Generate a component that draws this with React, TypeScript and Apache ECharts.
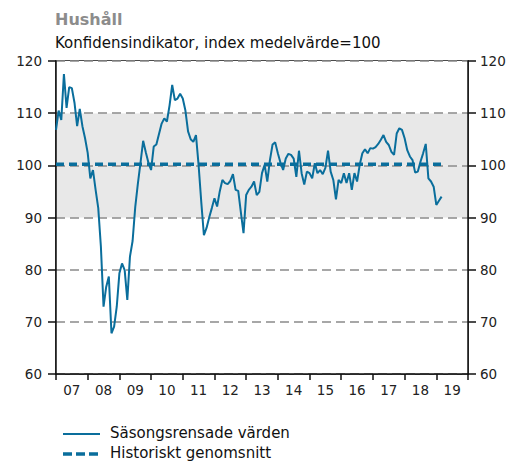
import React, { useEffect, useRef } from "react";
import * as echarts from "echarts";

const title = "Hushåll";
const subtitle = "Konfidensindikator, index medelvärde=100";
const yearLabels = ["07", "08", "09", "10", "11", "12", "13", "14", "15", "16", "17", "18", "19"];
const yTicks = [60, 70, 80, 90, 100, 110, 120];
const seriesName = "Säsongsrensade värden";
const avgName = "Historiskt genomsnitt";
const historicalAverage = 100.2;

// Monthly values, Jan 2007 – Mar 2019
const values = [
  106.8, 110.5, 108.7, 117.5, 111, 115, 114.8, 112, 107.5, 110.8, 107.5, 105.2,
  102.4, 97.5, 99.1, 95.3, 91.8, 84.4, 72.9, 76.7, 78.7, 67.8, 69.1, 72.9,
  79.3, 81.2, 79.9, 74.2, 82.5, 85.5, 92, 96.5, 100.5, 104.7, 102.5, 100.5,
  99.1, 103.6, 104, 106, 108, 109, 108.4, 111.5, 115.4, 112.5, 112.8, 113.7,
  112.8, 110.5, 106.5, 105, 104.5, 105.8, 100, 93, 86.6, 88, 90, 91.8,
  93.7, 92.1, 95, 97.2, 96.6, 96.4, 97, 98.3, 95.3, 95.1, 91, 87,
  94.3, 95.3, 95.9, 96.9, 94.3, 94.9, 98.5, 100.1, 96.9, 101, 104, 104.4,
  102.3, 100.5, 99.1, 101.3, 102.2, 102, 101.3, 97.8, 102.8, 98.5, 96.3, 98.8,
  98.5, 97.5, 100.4, 98.5, 99.1, 98.3, 99.5, 102.8, 98.8, 97.2, 93.5, 97.2,
  96.6, 98.5, 96.6, 98.5, 95.3, 98.5, 96.9, 100.1, 102.3, 103.1, 102.3, 103.3,
  103.2, 103.5, 104.1, 104.9, 105.8, 104.5, 103.9, 102.6, 102, 106.1, 107.1, 106.8,
  105.2, 102.9, 101.7, 101, 98.6, 98.8, 100.7, 102.3, 104.1, 97.5, 96.9, 95.9,
  92.4, 93.2, 94,
];

const LINE = "#0a6e9c";
const FONT = "DejaVu Sans, Verdana, sans-serif";

export default function App() {
  const ref = useRef<HTMLDivElement>(null);
  useEffect(() => {
    if (!ref.current) return;
    const chart = echarts.init(ref.current, undefined, { renderer: "svg" });
    const monthsTotal = yearLabels.length * 12;
    const lineData = values.map((v, i) => [i, v]);
    const avgData = values.map((_, i) => [i, historicalAverage]);
    const axisLabelStyle = { fontFamily: FONT, fontSize: 13.5, color: "#222" };
    chart.setOption({
      animation: false,
      backgroundColor: "#fff",
      textStyle: { fontFamily: FONT },
      grid: {
        left: 56,
        right: 48,
        top: 61,
        bottom: 89,
        show: true,
        borderColor: "#111",
        borderWidth: 1.5,
        backgroundColor: "transparent",
      },
      xAxis: [
        {
          type: "value",
          min: 0,
          max: monthsTotal,
          interval: 12,
          position: "bottom",
          axisLine: { show: true, lineStyle: { color: "#111", width: 1.5 } },
          axisTick: { show: true, inside: false, length: 6, lineStyle: { color: "#111", width: 1.5 } },
          axisLabel: { show: false },
          splitLine: { show: false },
        },
        {
          type: "category",
          data: yearLabels,
          position: "bottom",
          axisLine: { show: false },
          axisTick: { show: false },
          axisLabel: { ...axisLabelStyle, margin: 9 },
          splitLine: { show: false },
        },
      ],
      yAxis: [
        {
          type: "value",
          position: "left",
          min: yTicks[0],
          max: yTicks[yTicks.length - 1],
          interval: 10,
          axisLine: { show: true, lineStyle: { color: "#111", width: 1.5 } },
          axisTick: { show: true, inside: false, length: 8, lineStyle: { color: "#111", width: 1.5 } },
          axisLabel: { ...axisLabelStyle, margin: 14 },
          splitLine: {
            show: true,
            lineStyle: { color: "#8a8a8a", width: 1.6, type: [9, 5] },
          },
          splitArea: {
            show: true,
            areaStyle: { color: ["#fff", "#fff", "#fff", "#e8e8e8", "#e8e8e8", "#fff"] },
          },
        },
        {
          type: "value",
          position: "right",
          min: yTicks[0],
          max: yTicks[yTicks.length - 1],
          interval: 10,
          axisLine: { show: true, lineStyle: { color: "#111", width: 1.5 } },
          axisTick: { show: true, inside: false, length: 8, lineStyle: { color: "#111", width: 1.5 } },
          axisLabel: { ...axisLabelStyle, margin: 12 },
          splitLine: { show: false },
          splitArea: { show: false },
        },
      ],
      series: [
        {
          name: avgName,
          type: "line",
          xAxisIndex: 0,
          yAxisIndex: 0,
          data: avgData,
          showSymbol: false,
          lineStyle: { color: LINE, width: 3.5, type: [8, 5] },
          z: 3,
        },
        {
          name: seriesName,
          type: "line",
          xAxisIndex: 0,
          yAxisIndex: 0,
          data: lineData,
          showSymbol: false,
          lineStyle: { color: LINE, width: 2 },
          z: 4,
        },
      ],
      graphic: [
        {
          type: "text",
          left: 55,
          top: 11,
          style: { text: title, font: `bold 16px ${FONT}`, fill: "#8c8c8c" },
        },
        {
          type: "text",
          left: 55,
          top: 35,
          style: { text: subtitle, font: `15px ${FONT}`, fill: "#111" },
        },
        {
          type: "line",
          shape: { x1: 63, y1: 434, x2: 100, y2: 434 },
          style: { stroke: LINE, lineWidth: 2 },
        },
        {
          type: "text",
          left: 110,
          top: 425,
          style: { text: seriesName, font: `15px ${FONT}`, fill: "#111" },
        },
        {
          type: "line",
          shape: { x1: 63, y1: 454, x2: 100, y2: 454 },
          style: { stroke: LINE, lineWidth: 3.5, lineDash: [9, 4] },
        },
        {
          type: "text",
          left: 110,
          top: 445,
          style: { text: avgName, font: `15px ${FONT}`, fill: "#111" },
        },
      ],
    });
    return () => chart.dispose();
  }, []);
  return (
    <div
      ref={ref}
      style={{ position: "fixed", left: 0, top: 0, width: 516, height: 463 }}
    />
  );
}
